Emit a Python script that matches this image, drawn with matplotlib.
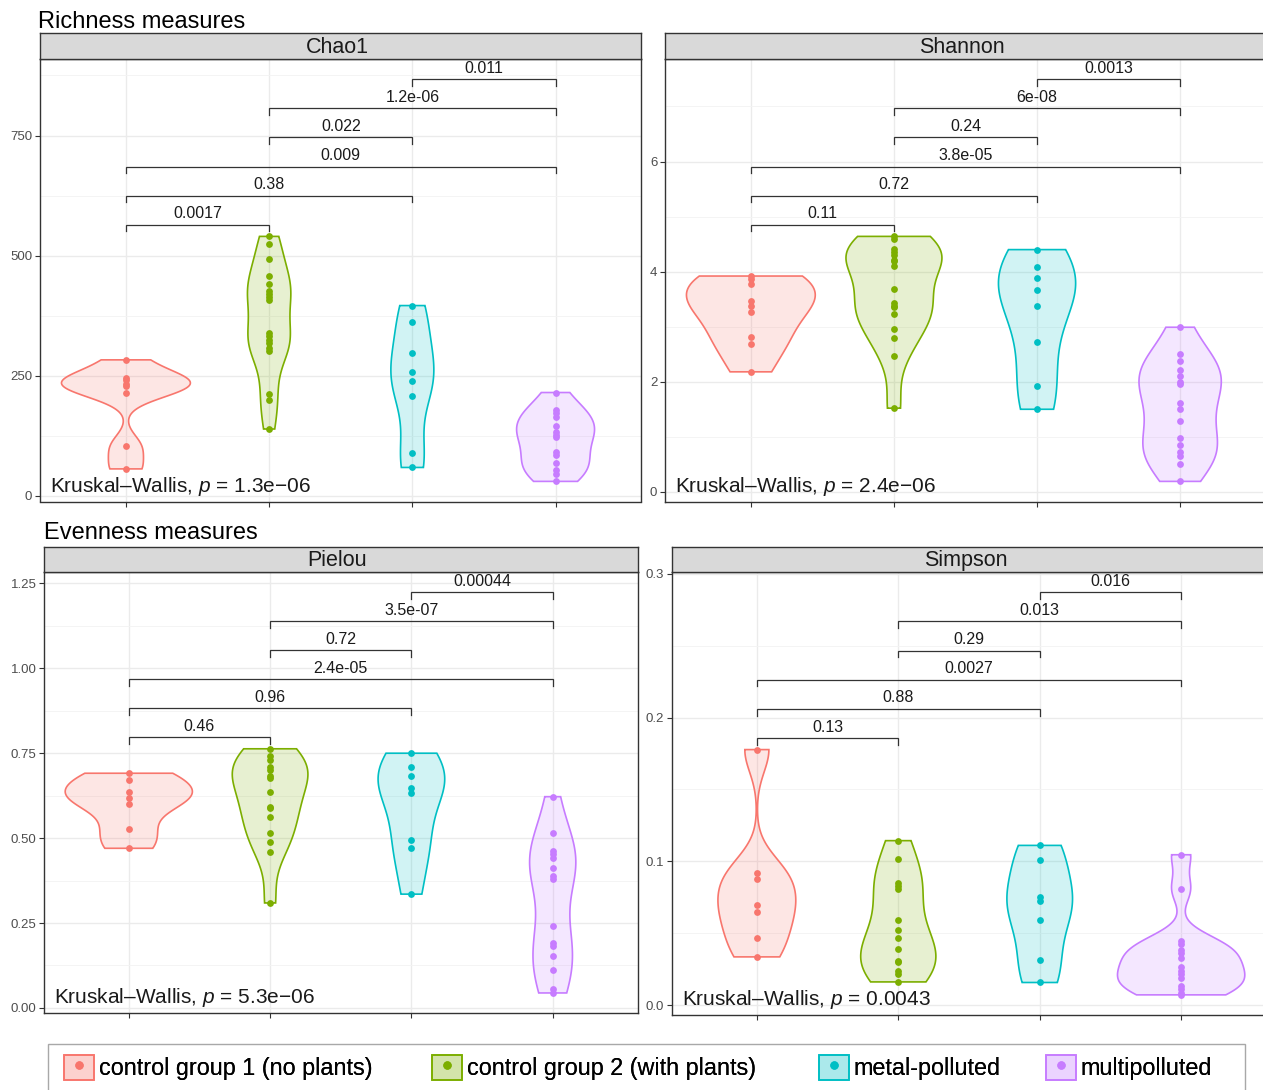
import numpy as np
import matplotlib
matplotlib.use("Agg")
import matplotlib.pyplot as plt
from matplotlib.patches import Patch, Rectangle
from matplotlib.lines import Line2D
from matplotlib.legend_handler import HandlerTuple

plt.rcParams['font.family'] = ['Liberation Sans', 'DejaVu Sans']
plt.rcParams['mathtext.fontset'] = 'custom'
plt.rcParams['mathtext.rm'] = 'Liberation Sans'
plt.rcParams['mathtext.it'] = 'Liberation Sans:italic'

# groups
groups = ["control group 1 (no plants)", "control group 2 (with plants)",
          "metal-polluted", "multipolluted"]
colors = ["#F8766D", "#7CAE00", "#00BFC4", "#C77CFF"]

# values per sample (one list per group)
chao1 = [
    [283, 246, 241, 233, 228, 214, 103, 56],
    [540, 524, 492, 458, 440, 426, 421, 413, 408, 339, 332, 325, 318, 308, 302, 212, 200, 139],
    [396, 362, 297, 257, 240, 207, 89, 59],
    [215, 179, 172, 165, 146, 132, 127, 122, 92, 85, 68, 53, 46, 30],
]
shannon = [
    [3.92, 3.87, 3.78, 3.46, 3.38, 3.26, 2.82, 2.69, 2.18],
    [4.64, 4.59, 4.41, 4.35, 4.31, 4.22, 4.19, 4.10, 3.68, 3.43, 3.38, 3.36, 3.23,
     2.96, 2.80, 2.46, 1.52],
    [4.40, 4.08, 3.88, 3.66, 3.38, 2.73, 1.93, 1.50],
    [2.99, 2.50, 2.38, 2.22, 2.10, 1.99, 1.95, 1.62, 1.51, 1.29, 0.98, 0.85, 0.73,
     0.65, 0.50, 0.19],
]
pielou = [
    [0.691, 0.671, 0.635, 0.618, 0.600, 0.526, 0.470],
    [0.763, 0.743, 0.729, 0.708, 0.701, 0.684, 0.676, 0.635, 0.593, 0.588, 0.562,
     0.515, 0.490, 0.460, 0.309],
    [0.750, 0.709, 0.683, 0.647, 0.634, 0.495, 0.472, 0.335],
    [0.622, 0.515, 0.461, 0.454, 0.441, 0.412, 0.387, 0.379, 0.240, 0.191, 0.181,
     0.154, 0.111, 0.057, 0.044],
]
simpson = [
    [0.1777, 0.0921, 0.0877, 0.0698, 0.0645, 0.0469, 0.0336],
    [0.1144, 0.1019, 0.0849, 0.0831, 0.0807, 0.0592, 0.0522, 0.0466, 0.0390,
     0.0309, 0.0297, 0.0239, 0.0220, 0.0162],
    [0.1111, 0.1009, 0.0749, 0.0726, 0.0594, 0.0316, 0.0158],
    [0.1046, 0.0807, 0.0445, 0.0425, 0.0385, 0.0362, 0.0329, 0.0267, 0.0239,
     0.0216, 0.0186, 0.0135, 0.0116, 0.0088, 0.0072],
]

# pairwise comparisons (bottom to top) and p-value labels
pairs = [(1, 2), (1, 3), (1, 4), (2, 3), (2, 4), (3, 4)]
chao1_p = ["0.0017", "0.38", "0.009", "0.022", "1.2e-06", "0.011"]
shannon_p = ["0.11", "0.72", "3.8e-05", "0.24", "6e-08", "0.0013"]
pielou_p = ["0.46", "0.96", "2.4e-05", "0.72", "3.5e-07", "0.00044"]
simpson_p = ["0.13", "0.88", "0.0027", "0.29", "0.013", "0.016"]

kw_p = ["1.3e\u221206", "2.4e\u221206", "5.3e\u221206", "0.0043"]
titles = ["Chao1", "Shannon", "Pielou", "Simpson"]

chao1_ticks = [0, 250, 500, 750]
chao1_labels = ["0", "250", "500", "750"]
shannon_ticks = [0, 2, 4, 6]
shannon_labels = ["0", "2", "4", "6"]
pielou_ticks = [0, 0.25, 0.5, 0.75, 1.0, 1.25]
pielou_labels = ["0.00", "0.25", "0.50", "0.75", "1.00", "1.25"]
simpson_ticks = [0, 0.1, 0.2, 0.3]
simpson_labels = ["0.0", "0.1", "0.2", "0.3"]

W, H = 1263, 1090
fig = plt.figure(figsize=(W / 100, H / 100), dpi=100)


def px_axes(x0, y0, x1, y1):
    return fig.add_axes([x0 / W, 1 - y1 / H, (x1 - x0) / W, (y1 - y0) / H])


def density(vals, n=512):
    v = np.asarray(vals, dtype=float)
    sd = v.std(ddof=1)
    q1, q3 = np.percentile(v, [25, 75])
    lo = min(sd, (q3 - q1) / 1.34)
    if lo <= 0:
        lo = sd
    bw = 0.9 * lo * len(v) ** -0.2
    y = np.linspace(v.min(), v.max(), n)
    d = np.exp(-0.5 * ((y[:, None] - v[None, :]) / bw) ** 2).sum(1)
    d = d / (len(v) * bw * np.sqrt(2 * np.pi))
    return y, d


def panel(box, strip, data, plabels, ticks, tlabels, title, kw):
    ax = px_axes(*box)
    sx = px_axes(box[0], strip[0], box[2], strip[1])
    sx.set_facecolor("#D9D9D9")
    sx.set_xticks([])
    sx.set_yticks([])
    for s in sx.spines.values():
        s.set_color("#333333")
        s.set_linewidth(1.0)
    sx.text(0.494, 0.45, title, ha="center", va="center", fontsize=15.5,
            color="#1A1A1A", transform=sx.transAxes)

    allv = np.concatenate([np.asarray(g, float) for g in data])
    ymin, ymax = allv.min(), allv.max()
    rng = ymax - ymin
    top = ymax + rng * (0.047 + 0.119 * (len(pairs) - 1))
    pad = 0.05 * (top - ymin)

    # violins, scaled by area across the panel
    dens = [density(g) for g in data]
    dmax = max(d.max() for _, d in dens)
    for i, ((y, d), g, c) in enumerate(zip(dens, data, colors), start=1):
        hw = 0.45 * d / dmax
        xs = np.concatenate([i - hw, (i + hw)[::-1]])
        ys = np.concatenate([y, y[::-1]])
        ax.fill(xs, ys, facecolor=c, alpha=0.18, edgecolor="none", zorder=2)
        ax.fill(xs, ys, facecolor="none", edgecolor=c, lw=1.2, zorder=3)
        ax.scatter(np.full(len(g), i), g, s=24, color=c, zorder=4, linewidths=0)

    # significance brackets
    tip = 0.027 * rng
    for k, ((a, b), lab) in enumerate(zip(pairs, plabels)):
        yb = ymax + rng * (0.047 + 0.119 * k)
        ax.plot([a, a, b, b], [yb - tip, yb, yb, yb - tip], color="#333333",
                lw=0.9, zorder=5, solid_joinstyle="miter")
        ax.annotate(lab, xy=((a + b) / 2, yb), xytext=(0, 2.5),
                    textcoords="offset points", ha="center", va="bottom",
                    fontsize=11.5, color="#1A1A1A")

    ax.annotate("Kruskal\u2013Wallis, $p$ = " + kw, xy=(0, 0),
                xycoords="axes fraction", xytext=(7.5, 7),
                textcoords="offset points", ha="left", va="baseline",
                fontsize=15, color="#1A1A1A")

    ax.set_xticks([1, 2, 3, 4])
    ax.set_xticklabels([])
    ax.set_yticks(ticks)
    ax.set_yticklabels(tlabels)
    step = ticks[1] - ticks[0]
    minor = [t + step / 2 for t in ticks] + [ticks[0] - step / 2]
    ax.set_yticks(minor, minor=True)
    ax.set_xlim(0.4, 4.6)
    ax.set_ylim(ymin - pad, top + pad)
    ax.tick_params(axis="y", which="minor", length=0)
    ax.tick_params(which="major", direction="out", length=3.5, width=0.8,
                   color="#333333", labelsize=9.5, labelcolor="#4D4D4D", pad=2)
    ax.grid(True, which="major", color="#EBEBEB", lw=1.0, zorder=0)
    ax.grid(True, which="minor", axis="y", color="#F3F3F3", lw=0.6, zorder=0)
    ax.set_axisbelow(True)
    for s in ax.spines.values():
        s.set_color("#333333")
        s.set_linewidth(1.0)
    return ax


panel((40, 59, 641.5, 501.5), (32.5, 59), chao1, chao1_p, chao1_ticks,
      chao1_labels, titles[0], kw_p[0])
panel((665, 59, 1266, 501.5), (32.5, 59), shannon, shannon_p, shannon_ticks,
      shannon_labels, titles[1], kw_p[1])
panel((44, 572, 637.5, 1013), (547, 572), pielou, pielou_p, pielou_ticks,
      pielou_labels, titles[2], kw_p[2])
panel((672, 572, 1266, 1015), (547, 572), simpson, simpson_p, simpson_ticks,
      simpson_labels, titles[3], kw_p[3])

fig.text(38 / W, 1 - 27.5 / H, "Richness measures", fontsize=17,
         va="baseline", ha="left")
fig.text(44 / W, 1 - 539 / H, "Evenness measures", fontsize=17,
         va="baseline", ha="left")

# legend box (runs off the bottom edge like the original)
fig.patches.append(Rectangle((48 / W, -0.02), (1245 - 48) / W, 0.02 + (H - 1044) / H,
                             transform=fig.transFigure, facecolor="white",
                             edgecolor="#A8A8A8", lw=1.0, zorder=0))
key_x = [64, 432, 819, 1046]
for c, name, kx in zip(colors, groups, key_x):
    h = (Patch(facecolor=matplotlib.colors.to_rgba(c, 0.18), edgecolor=c, lw=1.2),
         Line2D([], [], ls="", marker="o", ms=5, color=c))
    leg = fig.legend([h], [name], handler_map={tuple: HandlerTuple(ndivide=1)},
                     loc="upper left", bbox_to_anchor=((kx - 5) / W, 1 - 1050 / H),
                     fontsize=16.8, frameon=False, handlelength=1.3,
                     handleheight=1.3, handletextpad=0.2, borderpad=0.2,
                     borderaxespad=0)
    fig.add_artist(leg)

fig.savefig("out.png", dpi=100)
